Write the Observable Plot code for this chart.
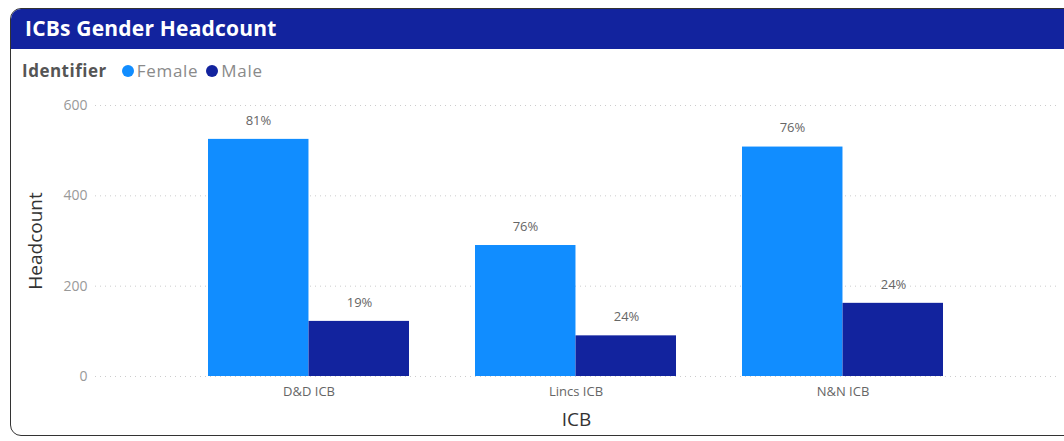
<!DOCTYPE html>
<html>
<head>
<meta charset="utf-8">
<script src="https://cdn.jsdelivr.net/npm/d3@7"></script>
<script src="https://cdn.jsdelivr.net/npm/@observablehq/plot@0.6"></script>
<style>
  html, body { margin: 0; padding: 0; background: #fff; width: 1064px; height: 441px; overflow: hidden; font-family: "Open Sans", "Noto Sans", sans-serif; }
  #frame { position: absolute; left: 10px; top: 8px; width: 1080px; height: 428px; border: 1.5px solid #333; border-radius: 11px; overflow: hidden; box-sizing: border-box; }
  #header { position: absolute; left: 0; top: 0; right: 0; height: 40px; background: #12239E; }
  #title { position: absolute; left: 14px; top: 5px; color: #fff; font-family: "Open Sans", sans-serif; font-weight: 700; font-size: 21px; letter-spacing: 0.2px; }
  #legend { position: absolute; left: 11px; top: 50px; font-size: 17px; color: #8a8a8a; display: flex; align-items: center; letter-spacing: 0.7px; }
  #legend .lt { font-weight: 700; color: #555; margin-right: 15px; letter-spacing: 0.5px; }
  #legend .sw { width: 12px; height: 12px; border-radius: 50%; display: inline-block; margin-right: 3px; }
  #legend .it { display: flex; align-items: center; margin-right: 8px; }
  #chart { position: absolute; left: 0; top: 90px; }
  #chart g[aria-label="y-axis tick label"] { fill: #999; }
  #chart g[aria-label="x-axis tick label"] { fill: #666; }
  #chart g[aria-label="y-axis label"], #chart g[aria-label="x-axis label"] { fill: #333; }
</style>
</head>
<body>
<div id="frame">
  <div id="header"><div id="title">ICBs Gender Headcount</div></div>
  <div id="legend"></div>
</div>
<div id="chart"></div>
<script>
const icbs = ["D&D ICB", "Lincs ICB", "N&N ICB"];
const genders = ["Female", "Male"];
const female = [525, 290, 508];
const male = [122, 90, 162];
const yTicks = [0, 200, 400, 600];
const colors = ["#118DFF", "#12239E"];

// legend
const legend = document.getElementById("legend");
legend.innerHTML = `<span class="lt">Identifier</span>` +
  genders.map((g, i) => `<span class="it"><span class="sw" style="background:${colors[i]}"></span>${g}</span>`).join("");

const data = [];
icbs.forEach((icb, i) => {
  const tot = female[i] + male[i];
  data.push({icb, gender: "Female", value: female[i], pct: d3.format(".0%")(female[i] / tot)});
  data.push({icb, gender: "Male", value: male[i], pct: d3.format(".0%")(male[i] / tot)});
});

const W = 1064, H = 350, mL = 95, mR = 7;
const pIn = 0.246, pOut = 0.418;
const step = (W - mL - mR) / (icbs.length - pIn + 2 * pOut);
const bw = step * (1 - pIn);
const half = bw / 2;

const fem = data.filter(d => d.gender === "Female");
const mal = data.filter(d => d.gender === "Male");

const chart = Plot.plot({
  width: W,
  height: H,
  marginLeft: mL,
  marginRight: mR,
  marginTop: 15,
  marginBottom: 64,
  style: { fontFamily: "'Open Sans', 'Noto Sans', sans-serif", fontSize: "13px", background: "transparent" },
  x: { domain: icbs, paddingInner: pIn, paddingOuter: pOut, label: null, axis: null },
  y: { domain: [0, 600], axis: null },
  color: { domain: genders, range: colors },
  marks: [
    Plot.gridY(yTicks, { stroke: "#aaa", strokeOpacity: 0.6, strokeDasharray: "1,4" }),
    Plot.axisY({ ticks: yTicks, tickSize: 0, tickPadding: 8, label: "Headcount", labelAnchor: "center", labelArrow: "none", labelOffset: 67, fontSize: 14 }),
    Plot.axisX({ tickSize: 0, tickPadding: 10, label: "ICB", labelAnchor: "center", labelArrow: "none", labelOffset: 49, fontSize: 13 }),
    Plot.barY(fem, { x: "icb", y: "value", fill: "gender", insetRight: half - 0.5 }),
    Plot.barY(mal, { x: "icb", y: "value", fill: "gender", insetLeft: half - 0.5 }),
    Plot.text(fem, { x: "icb", y: "value", text: "pct", dx: -half / 2, dy: -19, fill: "#666", fontSize: 13 }),
    Plot.text(mal, { x: "icb", y: "value", text: "pct", dx: half / 2, dy: -19, fill: "#666", fontSize: 13 })
  ]
});
document.getElementById("chart").appendChild(chart);
// enlarge axis titles
chart.querySelectorAll('g[aria-label="y-axis label"] text, g[aria-label="x-axis label"] text').forEach(t => t.setAttribute("font-size", "19"));
</script>
</body>
</html>
